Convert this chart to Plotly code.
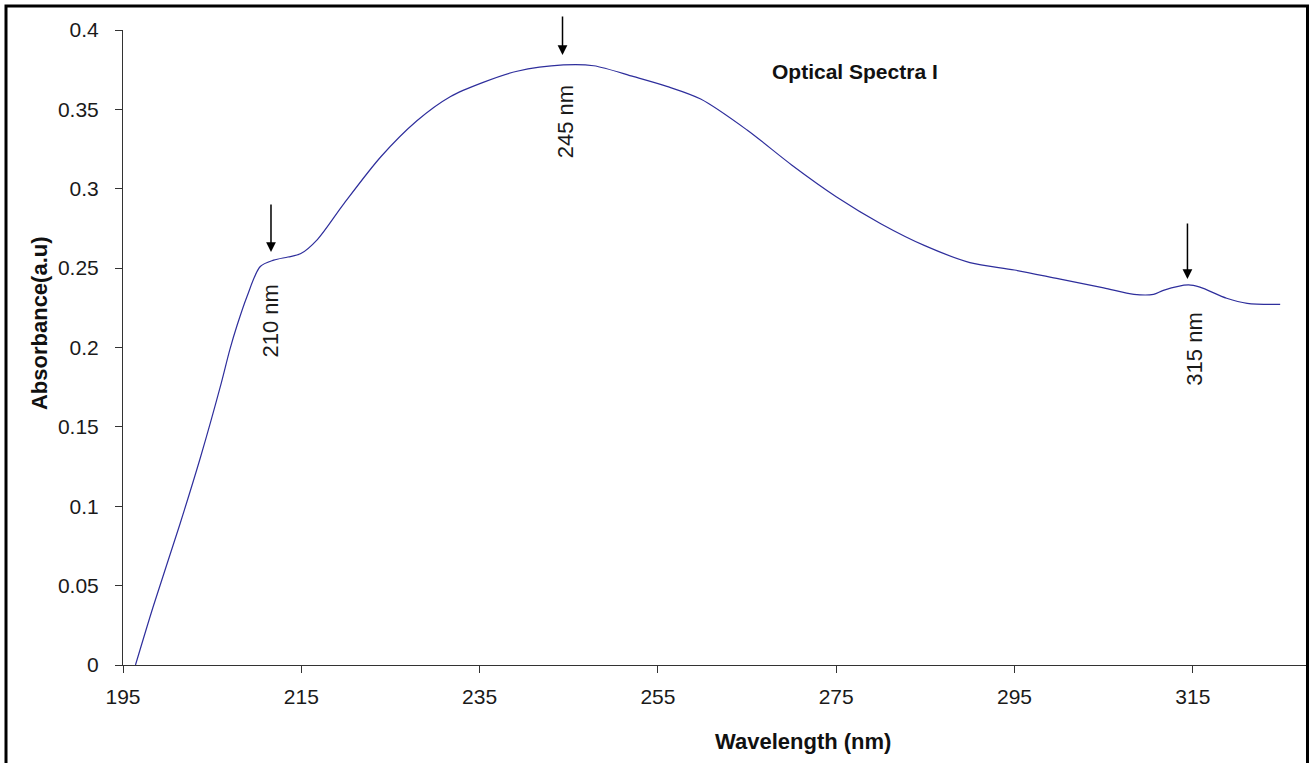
import plotly.graph_objects as go

# ---- data ----
wavelength = [196.4, 198.4, 201.4, 203.7, 205.9, 207.0, 207.8, 208.9, 210.4, 211.9,
              213.5, 214.9, 216.8, 219.7, 223.9, 228.0, 231.7, 235.4, 239.2, 244.4,
              247.8, 252.3, 256.0, 259.8, 265.0, 270.0, 275.0, 280.0, 285.0, 290.0,
              295.0, 300.0, 305.0, 308.4, 310.6, 311.7, 314.5, 315.8, 318.8, 321.1, 324.8]
absorbance = [0.0, 0.037, 0.089, 0.131, 0.175, 0.199, 0.214, 0.232, 0.251, 0.255,
              0.257, 0.259, 0.268, 0.290, 0.320, 0.343, 0.358, 0.367, 0.374, 0.378,
              0.3775, 0.3706, 0.3645, 0.3565, 0.337, 0.315, 0.295, 0.278, 0.264, 0.2535,
              0.2488, 0.2432, 0.2376, 0.2335, 0.2335, 0.236, 0.2394, 0.238, 0.231, 0.2278, 0.2272]

x_ticks = [195, 215, 235, 255, 275, 295, 315]
y_ticks = [0, 0.05, 0.1, 0.15, 0.2, 0.25, 0.3, 0.35, 0.4]
y_tick_text = ["0", "0.05", "0.1", "0.15", "0.2", "0.25", "0.3", "0.35", "0.4"]

peak_labels = ["210 nm", "245 nm", "315 nm"]
arrow_x = [211.6, 244.3, 314.4]
arrow_y = [0.2602, 0.3843, 0.2431]
label_x = [211.6, 244.6, 315.2]
label_y = [0.217, 0.342, 0.199]

FONT = "Liberation Sans, Arial, sans-serif"

fig = go.Figure()
fig.add_trace(go.Scatter(
    x=wavelength, y=absorbance, mode="lines",
    line=dict(color="#2E2E9C", width=1.2, shape="spline", smoothing=0.85),
    showlegend=False, hoverinfo="skip"))

annotations = []
for ax_, ay_, lx, ly, txt, alen in zip(arrow_x, arrow_y, label_x, label_y, peak_labels, [49, 40, 57]):
    annotations.append(dict(x=ax_, y=ay_, xref="x", yref="y", text="", showarrow=True,
                            arrowhead=2, arrowsize=1.3, arrowwidth=1.5, arrowcolor="#000",
                            ax=0, ay=-alen, standoff=0))
    annotations.append(dict(x=lx, y=ly, xref="x", yref="y", text=txt, showarrow=False,
                            textangle=-90, font=dict(family=FONT, size=22, color="#1a1a1a"),
                            xanchor="center", yanchor="middle"))

annotations.append(dict(x=0.6177, y=0.934, xref="paper", yref="paper", text="<b>Optical Spectra I</b>",
                        showarrow=False, font=dict(family=FONT, size=21, color="#111"),
                        xanchor="center", yanchor="middle"))
annotations.append(dict(x=0.574, y=-0.121, xref="paper", yref="paper", text="<b>Wavelength (nm)</b>",
                        showarrow=False, font=dict(family=FONT, size=22, color="#111"),
                        xanchor="center", yanchor="middle"))
annotations.append(dict(x=-0.07, y=0.5386, xref="paper", yref="paper", text="<b>Absorbance(a.u)</b>",
                        showarrow=False, textangle=-90, font=dict(family=FONT, size=22, color="#111"),
                        xanchor="center", yanchor="middle"))

fig.update_layout(
    width=1311, height=763,
    margin=dict(l=123, r=3, t=30, b=98, autoexpand=False),
    paper_bgcolor="white", plot_bgcolor="white",
    annotations=annotations,
    shapes=[dict(type="rect", xref="paper", yref="paper",
                 x0=(6 - 123) / 1185, x1=(1307.5 - 123) / 1185,
                 y0=-0.2, y1=(665 - 6) / 635,
                 line=dict(color="black", width=3), fillcolor="rgba(0,0,0,0)", layer="above")],
)
fig.update_xaxes(range=[195, 195 + 1185 / 8.915], tickvals=x_ticks, ticks="outside", ticklen=7,
                 tickcolor="#333", showline=True, linecolor="#333", linewidth=1, showgrid=False,
                 zeroline=False, tickfont=dict(family=FONT, size=21, color="#1a1a1a"),
                 ticklabelstandoff=6)
fig.update_yaxes(range=[0, 0.4], tickvals=y_ticks, ticktext=y_tick_text, ticks="outside", ticklen=7,
                 tickcolor="#333", showline=True, linecolor="#333", linewidth=1, showgrid=False,
                 zeroline=False, tickfont=dict(family=FONT, size=21, color="#1a1a1a"),
                 ticklabelstandoff=12)

fig.write_html("out.html")
